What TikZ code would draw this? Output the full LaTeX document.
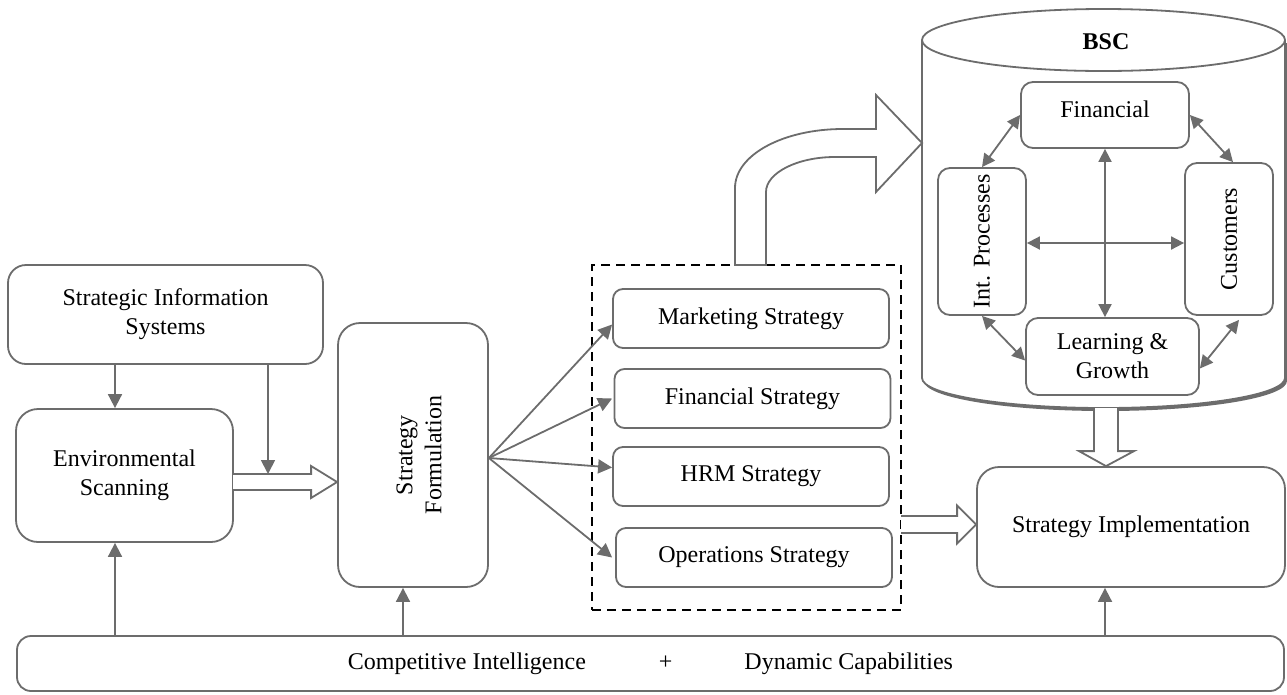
\documentclass[tikz,border=0pt]{standalone}
\usepackage{fontspec}
\setmainfont{Liberation Serif}
\usetikzlibrary{arrows.meta,calc}
\definecolor{ln}{RGB}{108,108,108}
\begin{document}
\begin{tikzpicture}[x=1pt,y=-1pt,
  box/.style={draw=ln, line width=1.8pt, rounded corners=16pt, fill=white, inner sep=0pt, align=center, font=\fontsize{24}{29}\selectfont},
  sbox/.style={box, rounded corners=10pt},
  arr/.style={draw=ln, line width=1.8pt, -{Triangle[length=14pt,width=14pt]}},
  darr/.style={draw=ln, line width=1.8pt, {Triangle[length=13pt,width=13pt]}-{Triangle[length=13pt,width=13pt]}},
  hollow/.style={draw=ln, line width=1.8pt, fill=white, line join=miter},
  txt/.style={font=\fontsize{24}{29}\selectfont, inner sep=0pt}
]
\useasboundingbox (0,0) rectangle (1287,694);

% ---------- BSC cylinder ----------
\fill[ln] (924,43) -- (924,381) arc[start angle=180, end angle=0, x radius=181.5, y radius=30] -- (1287,43) -- cycle;
\draw[draw=ln, line width=1.8pt, fill=white] (922,40) -- (922,378) arc[start angle=180, end angle=0, x radius=181.5, y radius=30] -- (1285,40);
\draw[draw=ln, line width=1.8pt, fill=white] (1103.5,40) ellipse [x radius=181.5, y radius=31];
\node[txt, font=\bfseries\fontsize{24}{29}\selectfont] (bsc) at (1106,42) {BSC};

\node[sbox, minimum width=168pt, minimum height=66pt, rounded corners=12pt] (bfin) at (1105,115) {\raisebox{12pt}{Financial}};
\node[sbox, minimum width=88pt, minimum height=147pt, rounded corners=12pt] (bint) at (982,241.5) {\rotatebox{90}{Int. Processes}};
\node[sbox, minimum width=88pt, minimum height=152pt, rounded corners=12pt] (bcus) at (1229,239) {\rotatebox{90}{Customers}};
\node[sbox, minimum width=173pt, minimum height=77pt, rounded corners=12pt] (blrn) at (1112.5,356.5) {Learning \&\\Growth};

\draw[darr] (bfin.west) -- (bint.north);
\draw[darr] (bfin.east) -- ($(bcus.north)+(4,0)$);
\draw[darr] (bint.south) -- ($(blrn.west)+(0,4)$);
\draw[darr] ($(bcus.south)+(10,4)$) -- ($(blrn.east)+(0,12)$);
\draw[darr] (bfin.south) -- (bfin.south |- blrn.north);
\draw[darr] ($(bint.east)+(0,1.5)$) -- ($(bint.east -| bcus.west)+(0,1.5)$);

% ---------- left part ----------
\node[box, minimum width=315pt, minimum height=99pt, rounded corners=18pt] (sis) at (165.5,314.5)
  {\raisebox{11pt}{\begin{tabular}{@{}c@{}}Strategic Information\\Systems\end{tabular}}};
\node[box, minimum width=217pt, minimum height=133pt, rounded corners=22pt] (env) at (124.5,475.5) {Environmental\\Scanning};
\node[box, minimum width=150pt, minimum height=264pt, rounded corners=22pt] (sf) at (413,455)
  {\hspace*{16pt}\rotatebox{90}{\begin{tabular}{@{}c@{}}Strategy\\Formulation\end{tabular}}};

% ---------- strategies ----------
\node[draw=black, line width=1.8pt, dash pattern=on 9pt off 6pt, minimum width=309pt, minimum height=345pt, inner sep=0pt] (grp) at (746.5,437.5) {};
\node[sbox, minimum width=276pt, minimum height=59pt] (mkt) at (751,318.5) {Marketing Strategy};
\node[sbox, minimum width=276pt, minimum height=59pt] (fst) at (752.5,398.5) {Financial Strategy};
\node[sbox, minimum width=276pt, minimum height=59pt] (hrm) at (751,476.5) {HRM Strategy};
\node[sbox, minimum width=276pt, minimum height=59pt] (ops) at (754,557.5) {Operations Strategy};

\node[box, minimum width=308pt, minimum height=120pt, rounded corners=22pt] (si) at (1131,527) {Strategy Implementation};

\node[box, minimum width=1267pt, minimum height=55pt, rounded corners=14pt] (ci) at (650.5,663.5)
  {\raisebox{-3pt}{Competitive Intelligence\hspace{73pt}+\hspace{72pt}Dynamic Capabilities}};

% ---------- hollow arrows ----------
\coordinate (h1s) at (233,482);
\coordinate (h1t) at (sf.west |- h1s);
\draw[hollow] ($(h1s)+(0,-8)$) -- ($(h1t)+(-26,-8)$) -- ($(h1t)+(-26,-16)$) -- (h1t) -- ($(h1t)+(-26,16)$) -- ($(h1t)+(-26,8)$) -- ($(h1s)+(0,8)$);
\coordinate (h1top) at (268,474);
\draw[arr] (sis.south -| h1top) -- (h1top);

\coordinate (h2s) at (901,524.5);
\coordinate (h2t) at (si.west |- h2s);
\draw[hollow] ($(h2s)+(0,-8.5)$) -- ($(h2t)+(-19,-8.5)$) -- ($(h2t)+(-19,-19)$) -- (h2t) -- ($(h2t)+(-19,19)$) -- ($(h2t)+(-19,8.5)$) -- ($(h2s)+(0,8.5)$);

\coordinate (h3s) at (1106,408);
\coordinate (h3t) at (h3s |- si.north);
\draw[hollow] ($(h3s)+(-12,0)$) -- ($(h3t)+(-12,-15)$) -- ($(h3t)+(-27,-15)$) -- (h3t) -- ($(h3t)+(28,-15)$) -- ($(h3t)+(12,-15)$) -- ($(h3s)+(12,0)$);

\coordinate (h4t) at (922,143);
\draw[hollow] (735,265) -- (735,188) .. controls (735,155) and (783,129) .. (843,129) -- (876,129) -- (876,95) -- (h4t) -- (876,192) -- (876,157) -- (835,157) .. controls (797,157) and (766,173) .. (766,192) -- (766,265) -- cycle;

% ---------- plain arrows ----------
\draw[arr] (sis.south -| 115,0) -- (env.north -| 115,0);
\draw[arr] (ci.north -| 115,0) -- (env.south -| 115,0);
\draw[arr] (ci.north -| 403,0) -- (sf.south -| 403,0);
\draw[arr] (ci.north -| 1105,0) -- (si.south -| 1105,0);

\coordinate (sfo) at ($(sf.east)+(0,3)$);
\draw[arr] (sfo) -- ($(mkt.west)+(0,6)$);
\draw[arr] (sfo) -- (fst.west -| mkt.west);
\draw[arr] (sfo) -- ($(hrm.west)+(0,-9)$);
\draw[arr] (sfo) -- (ops.west -| mkt.west);
\end{tikzpicture}
\end{document}
